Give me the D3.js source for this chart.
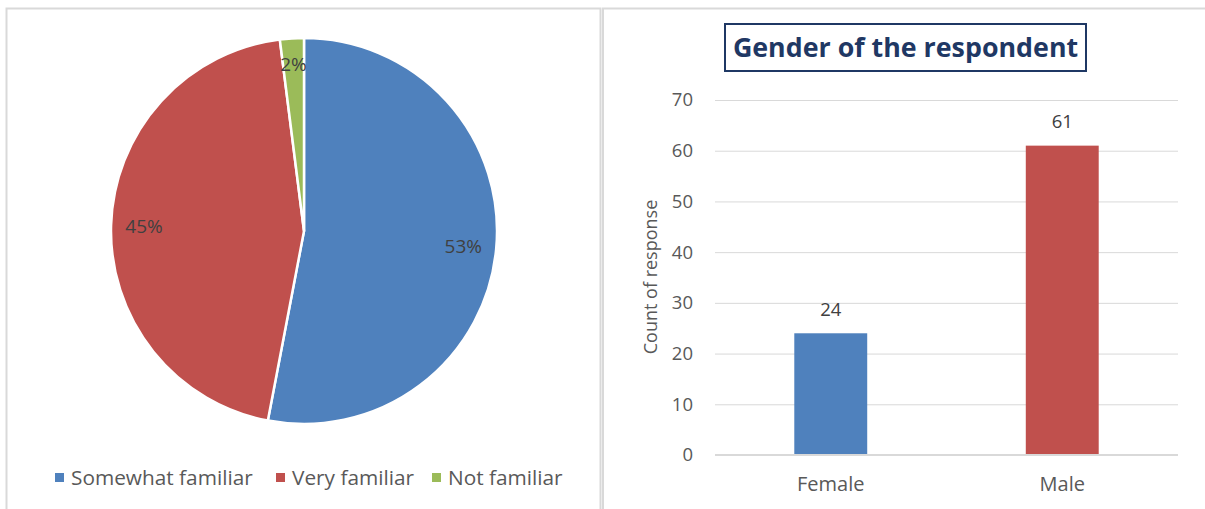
<!DOCTYPE html>
<html>
<head>
<meta charset="utf-8">
<script src="https://cdn.jsdelivr.net/npm/d3@7"></script>
<style>
  html, body { margin: 0; padding: 0; background: #fff; }
  svg { display: block; }
  text { font-family: "Open Sans", Lato, sans-serif; }
</style>
</head>
<body>
<svg id="chart" width="1205" height="509"></svg>
<script>
// Familiarity breakdown (percent of respondents)
const familiarityLabels = ["Somewhat familiar", "Very familiar", "Not familiar"];
const familiarityShares = [53, 45, 2];
const familiarityColors = ["#4f81bd", "#c0504d", "#9bbb59"];

// Gender of the respondent
const genders = ["Female", "Male"];
const genderCounts = [24, 61];
const genderColors = ["#4f81bd", "#c0504d"];
const yTicks = [0, 10, 20, 30, 40, 50, 60, 70];

const FONT = "'Open Sans', Lato, sans-serif";
const svg = d3.select("#chart");

// Panel frames
svg.append("rect").attr("x", 6.5).attr("y", 8.5).attr("width", 594).attr("height", 540)
  .attr("fill", "none").attr("stroke", "#d9d9d9").attr("stroke-width", 2);
svg.append("rect").attr("x", 603).attr("y", 8.5).attr("width", 640).attr("height", 540)
  .attr("fill", "none").attr("stroke", "#d9d9d9").attr("stroke-width", 2);

// ---------- Pie ----------
const cx = 304, cy = 231, R = 193;
const total = d3.sum(familiarityShares);
const pie = d3.pie().sort(null).value(d => d)(familiarityShares);
const arc = d3.arc().innerRadius(0).outerRadius(R);
// small slices get their label pushed a little further out
const labelRadius = d => (d.endAngle - d.startAngle) < 0.3 ? 167 : 160;

const pg = svg.append("g").attr("transform", `translate(${cx},${cy})`);
pg.selectAll("path").data(pie).join("path")
  .attr("d", arc)
  .attr("fill", (d, i) => familiarityColors[i])
  .attr("stroke", "#fff").attr("stroke-width", 2.5).attr("stroke-linejoin", "round");

pg.selectAll("text.pl").data(pie).join("text")
  .attr("class", "pl")
  .attr("transform", d => {
    const r = labelRadius(d);
    const c = d3.arc().innerRadius(r).outerRadius(r).centroid(d);
    return `translate(${c[0]},${c[1]})`;
  })
  .attr("text-anchor", "middle").attr("dy", "0.35em")
  .attr("font-size", 19).attr("fill", "#404040")
  .text(d => Math.round(d.data / total * 100) + "%");

// Legend
const legendX = [55, 276, 432];
const lg = svg.append("g");
familiarityLabels.forEach((lab, i) => {
  lg.append("rect").attr("x", legendX[i]).attr("y", 473).attr("width", 9).attr("height", 9)
    .attr("fill", familiarityColors[i]);
  lg.append("text").attr("x", legendX[i] + 16).attr("y", 478).attr("dy", "0.35em")
    .attr("font-size", 20.8).attr("fill", "#595959").text(lab);
});

// ---------- Bar chart ----------
const x0 = 715, x1 = 1178, yTop = 100, yBase = 455;
const x = d3.scaleBand().domain(genders).range([x0, x1]).paddingInner(0.685).paddingOuter(0.3425);
const y = d3.scaleLinear().domain([0, 70]).range([yBase, yTop]);

// Title box
svg.append("rect").attr("x", 725).attr("y", 24).attr("width", 361).attr("height", 47)
  .attr("fill", "#fff").attr("stroke", "#1f3864").attr("stroke-width", 2);
svg.append("text").attr("x", 905.5).attr("y", 48).attr("dy", "0.35em")
  .attr("text-anchor", "middle").attr("font-size", 26.8).attr("font-weight", 700)
  .attr("fill", "#1f3864").text("Gender of the respondent");

// Gridlines and value axis
const yAxis = d3.axisLeft(y).tickValues(yTicks).tickSize(-(x1 - x0)).tickPadding(22);
const ga = svg.append("g").attr("transform", `translate(${x0},0)`).call(yAxis);
ga.select(".domain").remove();
ga.selectAll(".tick line").attr("stroke", "#d9d9d9").attr("stroke-width", 1);
ga.selectAll(".tick text").attr("font-size", 18.5).attr("fill", "#595959")
  .style("font-family", FONT);

// Bars
svg.selectAll("rect.bar").data(genderCounts).join("rect")
  .attr("class", "bar")
  .attr("x", (d, i) => x(genders[i]))
  .attr("width", x.bandwidth())
  .attr("y", d => y(d))
  .attr("height", d => yBase - y(d))
  .attr("fill", (d, i) => genderColors[i]);

// Value labels
svg.selectAll("text.bv").data(genderCounts).join("text")
  .attr("class", "bv")
  .attr("x", (d, i) => x(genders[i]) + x.bandwidth() / 2)
  .attr("y", d => y(d) - 24).attr("dy", "0.35em")
  .attr("text-anchor", "middle").attr("font-size", 18.5).attr("fill", "#404040")
  .text(d => d);

// Baseline
svg.append("line").attr("x1", x0).attr("x2", x1).attr("y1", yBase).attr("y2", yBase)
  .attr("stroke", "#d9d9d9").attr("stroke-width", 2);

// Category labels
const xAxis = d3.axisBottom(x).tickSize(0).tickPadding(22);
const gx = svg.append("g").attr("transform", `translate(0,${yBase})`).call(xAxis);
gx.select(".domain").remove();
gx.selectAll(".tick text").attr("font-size", 20).attr("fill", "#595959")
  .style("font-family", FONT);

// Y axis title
svg.append("text").attr("transform", `translate(651,277) rotate(-90)`)
  .attr("text-anchor", "middle").attr("dy", "0.35em")
  .attr("font-size", 18).attr("fill", "#595959").text("Count of response");
</script>
</body>
</html>
